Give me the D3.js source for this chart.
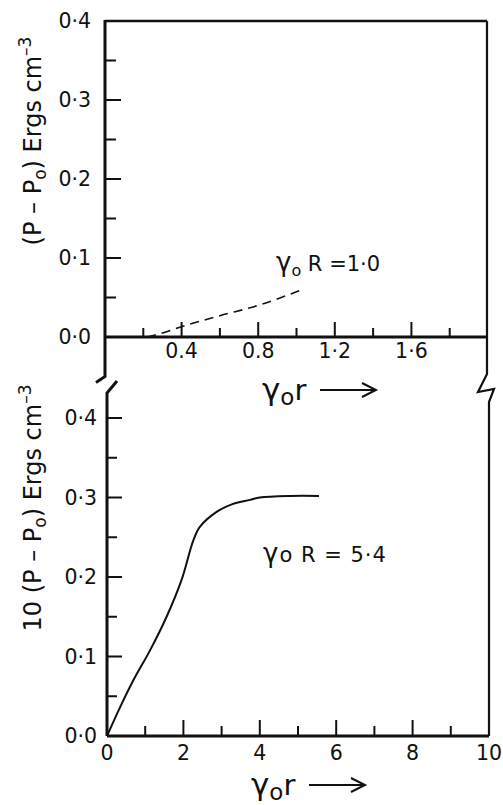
<!DOCTYPE html>
<html>
<head>
<meta charset="utf-8">
<script src="https://cdn.jsdelivr.net/npm/d3@7"></script>
<style>
  html, body { margin: 0; padding: 0; background: #fff; }
  svg { display: block; }
  text { font-family: "DejaVu Sans", sans-serif; fill: #111; }
</style>
</head>
<body>
<script>
// ---- data ----
const topX = [0.22, 0.3, 0.4, 0.6, 0.8, 1.02];
const topY = [0.0, 0.005, 0.013, 0.027, 0.040, 0.059];
const botX = [0, 0.35, 0.7, 1.13, 1.56, 1.95, 2.26, 2.43, 2.87, 3.3, 3.74, 4.0, 4.8, 5.55];
const botY = [0, 0.037, 0.071, 0.108, 0.150, 0.196, 0.246, 0.263, 0.282, 0.292, 0.297, 0.300, 0.302, 0.302];
const topXTicks = [0.4, 0.8, 1.2, 1.6];
const topXTickLabels = ["0.4", "0.8", "1·2", "1·6"];
const topXMinor = [0.2, 0.6, 1.0, 1.4, 1.8];
const yTicks = [0, 0.1, 0.2, 0.3, 0.4];
const yTickLabels = ["0·0", "0·1", "0·2", "0·3", "0·4"];
const yMinor = [0.05, 0.15, 0.25, 0.35];
const botXTicks = [0, 2, 4, 6, 8, 10];
const botXMinor = [1, 3, 5, 7, 9];
const botLabel = "γo R = 5·4";

const W = 503, H = 805;
const svg = d3.select("body").append("svg").attr("width", W).attr("height", H);

// scales
const xT = d3.scaleLinear().domain([0, 2]).range([105, 488]);
const yT = d3.scaleLinear().domain([0, 0.4]).range([337, 21]);
const xB = d3.scaleLinear().domain([0, 10]).range([107, 489]);
const yB = d3.scaleLinear().domain([0, 0.4]).range([736, 418]);

const ink = "#111";
const fs = 20.5;

// ---------- TOP PANEL ----------
svg.append("line").attr("x1", xT(0)).attr("x2", xT(2) - 1).attr("y1", yT(0.4)).attr("y2", yT(0.4))
  .attr("stroke", ink).attr("stroke-width", 2.5);
svg.append("path")
  .attr("d", `M${xT(2) - 1},${yT(0.4)} L${xT(2) - 1},374 L478,392 L494,389 L489,402 L489,${yB(0)}`)
  .attr("fill", "none").attr("stroke", ink).attr("stroke-width", 2.2).attr("stroke-linejoin", "miter");
svg.append("path")
  .attr("d", `M${xT(0)},${yT(0.4) - 1} L${xT(0)},${yT(-0.05)} L${xT(0) - 9},${yT(-0.05) + 6}`)
  .attr("fill", "none").attr("stroke", ink).attr("stroke-width", 3);
svg.append("line").attr("x1", xT(0)).attr("x2", xT(2) - 1).attr("y1", yT(0)).attr("y2", yT(0))
  .attr("stroke", ink).attr("stroke-width", 3);

const gYT = svg.append("g");
gYT.selectAll(".maj").data(yTicks.slice(1)).join("line")
  .attr("x1", xT(0)).attr("x2", xT(0) + 16).attr("y1", d => yT(d)).attr("y2", d => yT(d))
  .attr("stroke", ink).attr("stroke-width", 2);
gYT.append("g").selectAll("line").data(yMinor).join("line")
  .attr("x1", xT(0)).attr("x2", xT(0) + 11).attr("y1", d => yT(d)).attr("y2", d => yT(d))
  .attr("stroke", ink).attr("stroke-width", 2);
gYT.selectAll("text").data(yTicks).join("text")
  .attr("x", 91).attr("y", d => yT(d)).attr("dy", "0.36em")
  .attr("text-anchor", "end").attr("font-size", fs)
  .text((d, i) => yTickLabels[i]);

const gXT = svg.append("g");
gXT.selectAll(".maj").data(topXTicks).join("line")
  .attr("x1", d => xT(d)).attr("x2", d => xT(d)).attr("y1", yT(0)).attr("y2", yT(0) - 15)
  .attr("stroke", ink).attr("stroke-width", 2);
gXT.append("g").selectAll("line").data(topXMinor).join("line")
  .attr("x1", d => xT(d)).attr("x2", d => xT(d)).attr("y1", yT(0)).attr("y2", yT(0) - 9)
  .attr("stroke", ink).attr("stroke-width", 2);
gXT.selectAll("text").data(topXTicks).join("text")
  .attr("x", d => xT(d)).attr("y", 358)
  .attr("text-anchor", "middle").attr("font-size", fs)
  .text((d, i) => topXTickLabels[i]);

const lineT = d3.line().x(d => xT(d[0])).y(d => yT(d[1])).curve(d3.curveMonotoneX);
svg.append("path").datum(topX.map((x, i) => [x, topY[i]]))
  .attr("d", lineT).attr("fill", "none").attr("stroke", ink)
  .attr("stroke-width", 1.6).attr("stroke-dasharray", "9,6");

const tA = svg.append("text").attr("x", 276).attr("y", 271).attr("font-size", 21);
tA.append("tspan").attr("font-size", 26).text("γ");
tA.append("tspan").attr("font-size", 16).attr("dy", 5).text("o");
tA.append("tspan").attr("dy", -5).text(" R =1·0");

function xLabel(x, y) {
  const t = svg.append("text").attr("x", x).attr("y", y).attr("font-size", 29);
  t.append("tspan").attr("font-size", 31).text("γ");
  t.append("tspan").attr("font-size", 23).attr("dy", 5).text("o");
  t.append("tspan").attr("dy", -5).text("r");
  const a0 = x + 58, a1 = x + 114;
  svg.append("line").attr("x1", a0).attr("x2", a1).attr("y1", y - 10).attr("y2", y - 10)
    .attr("stroke", ink).attr("stroke-width", 2);
  svg.append("path").attr("d", `M${a1 - 14},${y - 17} L${a1},${y - 10} L${a1 - 14},${y - 3}`)
    .attr("fill", "none").attr("stroke", ink).attr("stroke-width", 2);
}
xLabel(262, 400);

function yLabel(cx, cy, prefix) {
  const t = svg.append("text").attr("transform", `translate(${cx},${cy}) rotate(-90)`)
    .attr("text-anchor", "middle").attr("font-size", 24);
  t.append("tspan").text(prefix + "(P – P");
  t.append("tspan").attr("font-size", 17).attr("dy", 5).text("o");
  t.append("tspan").attr("dy", -5).text(") Ergs  cm");
  t.append("tspan").attr("font-size", 17).attr("dy", -10).text("–3");
}
yLabel(41, 141, "");

// ---------- BOTTOM PANEL ----------
svg.append("path")
  .attr("d", `M${xB(0) + 10},381 L${xB(0)},393 L${xB(0)},${yB(0)}`)
  .attr("fill", "none").attr("stroke", ink).attr("stroke-width", 3);
svg.append("line").attr("x1", xB(0)).attr("x2", xB(10)).attr("y1", yB(0)).attr("y2", yB(0))
  .attr("stroke", ink).attr("stroke-width", 3);

const gYB = svg.append("g");
gYB.selectAll(".maj").data(yTicks.slice(1)).join("line")
  .attr("x1", xB(0)).attr("x2", xB(0) + 15).attr("y1", d => yB(d)).attr("y2", d => yB(d))
  .attr("stroke", ink).attr("stroke-width", 2);
gYB.append("g").selectAll("line").data(yMinor).join("line")
  .attr("x1", xB(0)).attr("x2", xB(0) + 10).attr("y1", d => yB(d)).attr("y2", d => yB(d))
  .attr("stroke", ink).attr("stroke-width", 2);
gYB.selectAll("text").data(yTicks).join("text")
  .attr("x", 97).attr("y", d => yB(d)).attr("dy", "0.36em")
  .attr("text-anchor", "end").attr("font-size", fs)
  .text((d, i) => yTickLabels[i]);

const gXB = svg.append("g");
gXB.selectAll(".maj").data(botXTicks.slice(1, -1)).join("line")
  .attr("x1", d => xB(d)).attr("x2", d => xB(d)).attr("y1", yB(0)).attr("y2", yB(0) - 16)
  .attr("stroke", ink).attr("stroke-width", 2);
gXB.append("g").selectAll("line").data(botXMinor).join("line")
  .attr("x1", d => xB(d)).attr("x2", d => xB(d)).attr("y1", yB(0)).attr("y2", yB(0) - 10)
  .attr("stroke", ink).attr("stroke-width", 2);
gXB.selectAll("text").data(botXTicks).join("text")
  .attr("x", d => xB(d)).attr("y", 760)
  .attr("text-anchor", "middle").attr("font-size", fs)
  .text(d => d);

const lineB = d3.line().x(d => xB(d[0])).y(d => yB(d[1])).curve(d3.curveCatmullRom.alpha(0.5));
svg.append("path").datum(botX.map((x, i) => [x, botY[i]]))
  .attr("d", lineB).attr("fill", "none").attr("stroke", ink).attr("stroke-width", 2);

const tB = svg.append("text").attr("x", 263).attr("y", 562).attr("font-size", 21)
  .attr("letter-spacing", 1);
tB.append("tspan").attr("font-size", 26).text(botLabel.slice(0, 1));
tB.append("tspan").text(botLabel.slice(1));

xLabel(251, 795);
yLabel(41, 508, "10 ");
</script>
</body>
</html>
